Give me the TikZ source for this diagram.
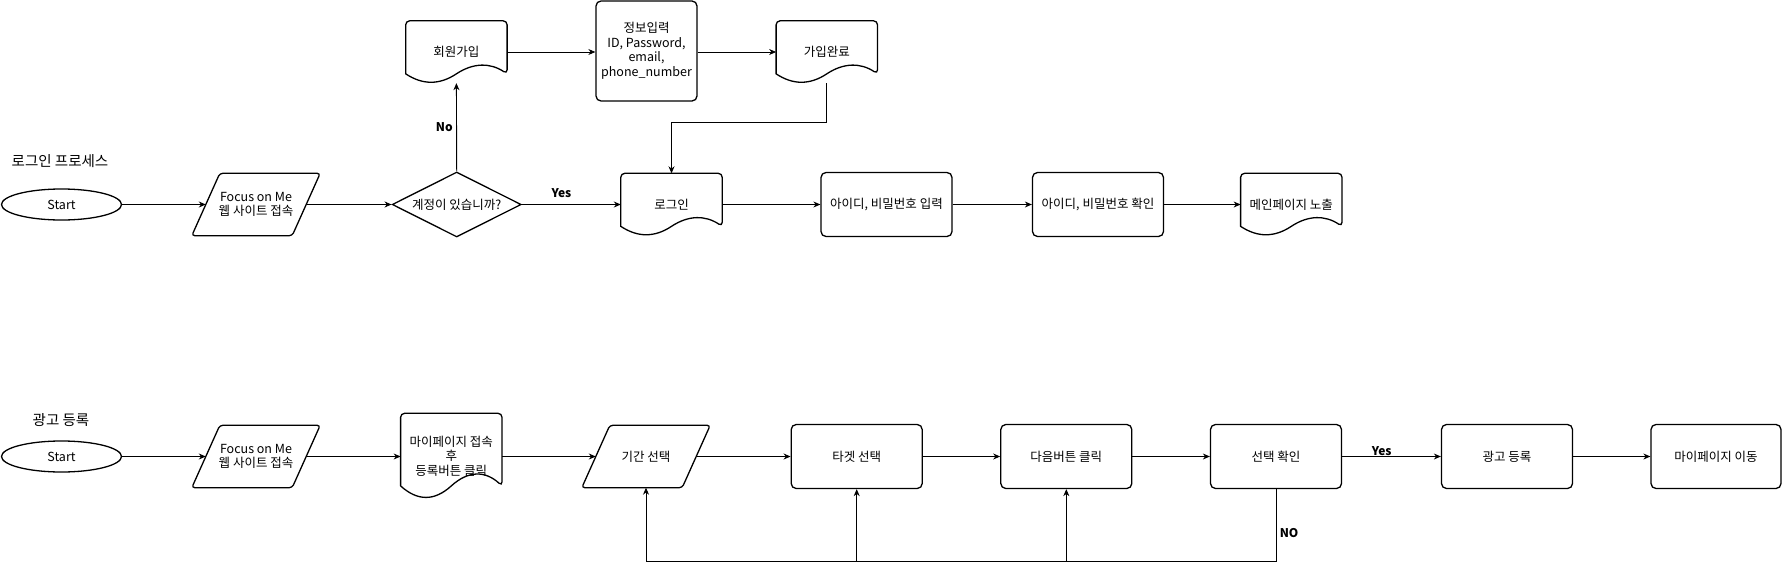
\documentclass[tikz,border=0pt]{standalone}
\usepackage{fontspec}
\setmainfont{Noto Sans CJK KR}
\usetikzlibrary{shapes.geometric,arrows.meta,calc}

% Contour "document" (bas ondule) autour d'un noeud rectangulaire
\newcommand{\docoutline}[1]{%
  \draw[shapeline] let \p1=(#1.north west), \p2=(#1.south east),
      \n1={0.3*(\y1-\y2)}, \n2={\x2-\x1} in
    (\x1,\y2+0.5*\n1) [rounded corners=4pt] -- (\x1,\y1) -- (\x2,\y1) -- (\x2,\y2+0.5*\n1) [sharp corners]
    .. controls (\x1+5*\n2/6,\y2+1.1*\n1) and (\x1+2*\n2/3,\y2+1.1*\n1) .. (\x1+0.5*\n2,\y2+0.5*\n1)
    .. controls (\x1+\n2/3,\y2-0.1*\n1) and (\x1+\n2/6,\y2-0.1*\n1) .. (\x1,\y2+0.5*\n1) -- cycle;}

% Contour parallelogramme (entree/sortie)
\newcommand{\paraoutline}[1]{%
  \draw[shapeline, rounded corners=3pt] ([xshift=14pt]#1.north west) -- ([xshift=14pt]#1.north east)
    -- ([xshift=-14pt]#1.south east) -- ([xshift=-14pt]#1.south west) -- cycle;}

\begin{document}
\begin{tikzpicture}[x=1pt, y=-1pt, >={Stealth[length=7pt,width=6pt]},
    shapeline/.style={draw=trait, line width=1.3pt},
    txt/.style={font=\fontsize{12.5}{14.5}\selectfont, align=center},
    terminal/.style={ellipse, shapeline, txt, minimum width=120pt, minimum height=31pt, inner sep=0pt},
    process/.style={rectangle, rounded corners=5pt, shapeline, txt, minimum width=131pt, minimum height=64pt, inner sep=2pt},
    docnode/.style={rectangle, txt, minimum width=101pt, minimum height=62pt, inner sep=0pt},
    ionode/.style={rectangle, txt, minimum width=100pt, minimum height=62pt, inner sep=0pt},
    decision/.style={diamond, aspect=2, shapeline, txt, minimum width=129pt, minimum height=65pt, inner sep=0pt},
    flow/.style={->, draw=trait, line width=0.9pt},
    lbl/.style={font=\fontsize{12}{14}\selectfont\bfseries},
    title/.style={font=\fontsize{14.5}{17}\selectfont}]
        % --- CONFIGURATION ---
        \definecolor{trait}{RGB}{0, 0, 0}      % Noir

        % Cadre de l'image
        \useasboundingbox (0,0) rectangle (1782,570);

        % --- TITRES ---
        \node[title] (title1) at (60,161) {로그인 프로세스};
        \node[title] (title2) at (61,420.5) {광고 등록};

        % --- PROCESSUS DE CONNEXION ---
        \node[terminal] (start1) at (61.5,204.5) {Start};
        \node[ionode] (web1) at (256,204.5) {Focus on Me\\웹 사이트 접속};
        \node[decision] (account) at (456.7,204.5) {계정이 있습니까?};
        \node[docnode] (join) at (456.4,52) {회원가입};
        \node[process, minimum width=101pt, minimum height=100pt] (info) at (646.5,51) {정보입력\\ID, Password,\\email,\\phone\_number};
        \node[docnode] (done) at (826.8,52) {가입완료};
        \node[docnode] (login) at (671.5,204.5) {로그인};
        \node[process] (idin) at (886.5,204.5) {아이디, 비밀번호 입력};
        \node[process] (idchk) at (1098,204.5) {아이디, 비밀번호 확인};
        \node[docnode] (mainpg) at (1291.3,204.5) {메인페이지 노출};

        \paraoutline{web1}
        \docoutline{join}
        \docoutline{done}
        \docoutline{login}
        \docoutline{mainpg}

        % Fleches
        \draw[flow] (start1) -- (web1);
        \draw[flow] (web1) -- (account);
        \draw[flow] (account) -- node[lbl, above=3pt, pos=0.4] {Yes} (login);
        \draw[flow] (account.north) -- node[lbl, left] {No} (join.south);
        \draw[flow] (join.east) -- (info.west |- join.east);
        \draw[flow] (info.east |- done.west) -- (done.west);
        \draw[flow] (done.south) -- ++(0,39) -| (login.north);
        \draw[flow] (login) -- (idin);
        \draw[flow] (idin) -- (idchk);
        \draw[flow] (idchk) -- (mainpg);

        % --- ENREGISTREMENT PUBLICITAIRE ---
        \node[terminal] (start2) at (61.5,456.5) {Start};
        \node[ionode] (web2) at (256,456.5) {Focus on Me\\웹 사이트 접속};
        \node[docnode, minimum height=85pt] (mypage) at (451.3,456) {마이페이지 접속\\후\\등록버튼 클릭};
        \node[ionode] (period) at (646,456.5) {기간 선택};
        \node[process] (target) at (856.7,456.5) {타겟 선택};
        \node[process] (nextbtn) at (1066.3,456.5) {다음버튼 클릭};
        \node[process] (confirm) at (1276,456.5) {선택 확인};
        \node[process] (adreg) at (1507,456.5) {광고 등록};
        \node[process, minimum width=130pt] (mymove) at (1716,456.5) {마이페이지 이동};

        \paraoutline{web2}
        \paraoutline{period}
        \docoutline{mypage}

        % Fleches
        \draw[flow] (start2) -- (web2);
        \draw[flow] (web2) -- (mypage.west |- web2.east);
        \draw[flow] (mypage.east |- period.west) -- (period);
        \draw[flow] (period) -- (target);
        \draw[flow] (target) -- (nextbtn);
        \draw[flow] (nextbtn) -- (confirm);
        \draw[flow] (confirm) -- node[lbl, above=0pt, inner sep=0pt, pos=0.4] {Yes} (adreg);
        \draw[flow] (adreg) -- (mymove);

        % Boucle de retour (NO)
        \coordinate (loopR) at (1276,561.7);
        \draw[flow] (confirm.south) -- node[lbl, right, pos=0.6] {NO} (loopR) -| (period.south);
        \draw[flow] (loopR) -| (target.south);
        \draw[flow] (loopR) -| (nextbtn.south);

    \end{tikzpicture}
\end{document}
